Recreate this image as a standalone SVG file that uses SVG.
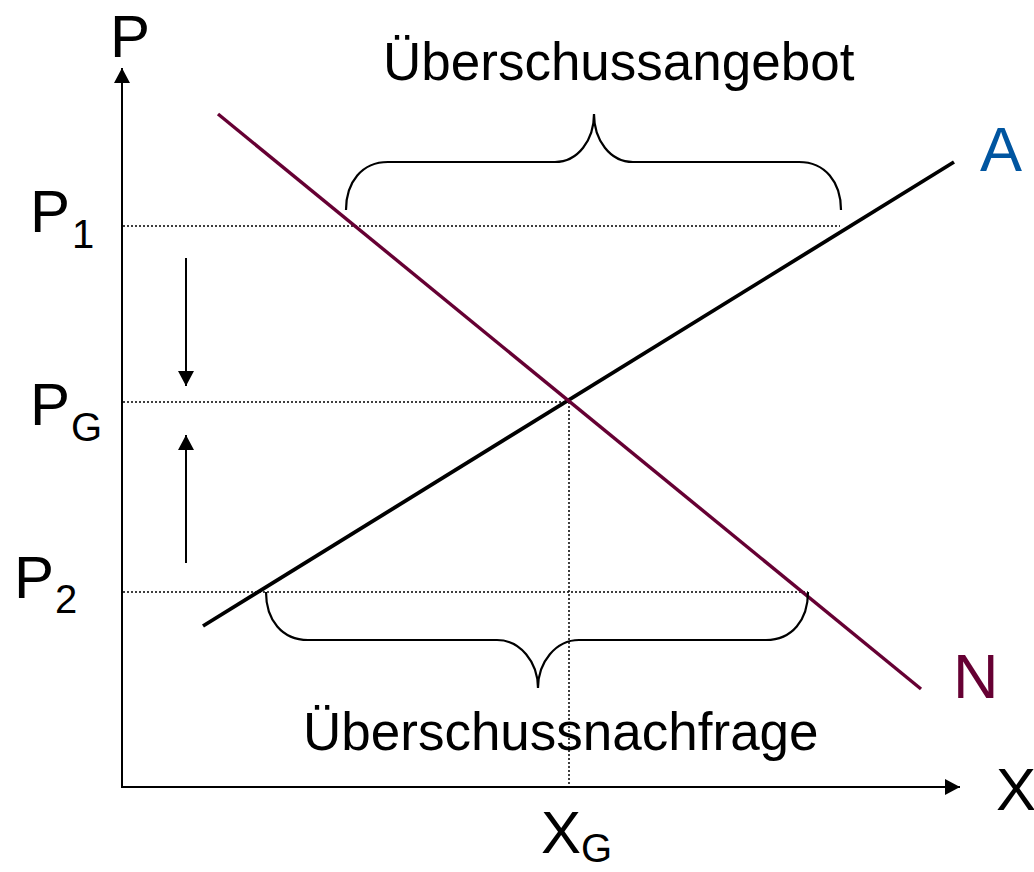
<svg xmlns="http://www.w3.org/2000/svg" width="1034" height="872" viewBox="0 0 1034 872">
<style>
text{font-family:"Liberation Sans",Arial,sans-serif;fill:#000}
.dot{stroke:#000;stroke-width:1.5;stroke-dasharray:2 2;fill:none}
.axis{stroke:#000;stroke-width:2;fill:none}
.brace{stroke:#000;stroke-width:2.2;fill:none}
.big{font-size:60px}
.sub{font-size:40px}
.lbl{font-size:53px}
</style>
<defs>
<marker id="ah" markerWidth="16" markerHeight="16" refX="15" refY="8" orient="auto" markerUnits="userSpaceOnUse">
<path d="M0,0 L15,8 L0,16 Z" fill="#000"/>
</marker>
</defs>
<rect width="1034" height="872" fill="#fff"/>
<g id="guides">
<line class="dot" x1="123" y1="226" x2="840" y2="226"/>
<line class="dot" x1="123" y1="402" x2="568" y2="402"/>
<line class="dot" x1="123" y1="592" x2="808" y2="592"/>
<line class="dot" x1="569" y1="402" x2="569" y2="786"/>
</g>
<g id="axes">
<line class="axis" x1="122" y1="788" x2="122" y2="68" marker-end="url(#ah)"/>
<line class="axis" x1="121" y1="787" x2="960" y2="787" marker-end="url(#ah)"/>
</g>
<g id="connectors">
<line class="axis" x1="186" y1="258" x2="186" y2="386" marker-end="url(#ah)"/>
<line class="axis" x1="186" y1="563" x2="186" y2="435" marker-end="url(#ah)"/>
</g>
<g id="supply">
<line x1="203" y1="626" x2="954" y2="162" stroke="#000" stroke-width="3.8"/>
<text x="980" y="171" style="font-size:63px;fill:#0055A0">A</text>
</g>
<g id="demand">
<line x1="218" y1="114" x2="921" y2="689" stroke="#660033" stroke-width="3.4"/>
<text x="953" y="698" style="font-size:63px;fill:#660033">N</text>
</g>
<g id="brace-top">
<path class="brace" d="M346,210 C346,182 362,162 388,162 L555,162 C578,162 594,140 594,114 C594,140 610,162 633,162 L799,162 C825,162 841,182 841,210"/>
<text class="lbl" x="383" y="80">Überschussangebot</text>
</g>
<g id="brace-bottom">
<path class="brace" d="M266,592 C266,620 282,640 308,640 L497,640 C520,640 538,662 538,688 C538,662 556,640 579,640 L766,640 C792,640 808,620 808,592"/>
<text class="lbl" x="303" y="750">Überschussnachfrage</text>
</g>
<g id="labels">
<text class="big" x="110" y="57">P</text>
<text class="big" x="30" y="232">P</text><text class="sub" x="72" y="248">1</text>
<text class="big" x="30" y="425">P</text><text class="sub" x="71" y="441">G</text>
<text class="big" x="14" y="598">P</text><text class="sub" x="55" y="613">2</text>
<text class="big" x="541" y="853">X</text><text class="sub" x="581" y="862">G</text>
<text class="big" x="996" y="810">X</text>
</g>
</svg>
